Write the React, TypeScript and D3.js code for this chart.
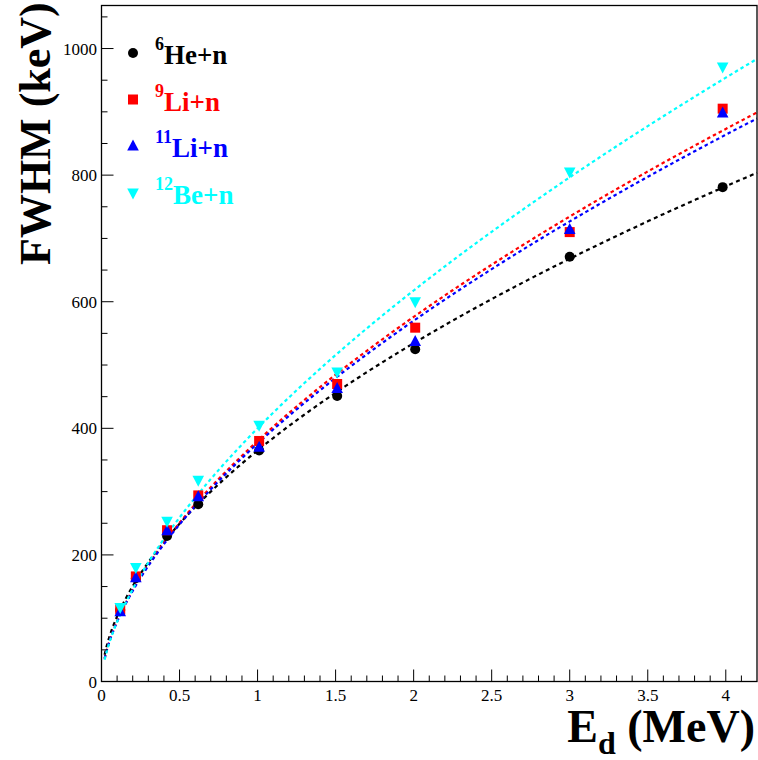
import React from "react";
import * as d3 from "d3";

const energies = [0.12, 0.22, 0.42, 0.62, 1.01, 1.51, 2.01, 3.0, 3.98];
const he6 = [113, 163, 230, 280, 365, 451, 525, 671, 781];
const li9 = [114, 166, 239, 294, 380, 470, 559, 710, 905];
const li11 = [110, 164, 238, 292, 370, 463, 537, 714, 898];
const be12 = [117, 180, 253, 318, 405, 489, 600, 805, 971];

const seriesNames = ["He+n", "Li+n", "Li+n", "Be+n"];
const seriesMass = ["6", "9", "11", "12"];
const seriesColors = ["#000000", "#ff0000", "#0000ff", "#00ffff"];
const seriesMarkers = ["circle", "square", "triUp", "triDown"];
const seriesValues = [he6, li9, li11, be12];
// fit: FWHM = a * E^p
const fitA = [365, 380, 376, 400];
const fitP = [0.55, 0.6, 0.6, 0.627];
const fitStart = 0.02;

const xTicks = [0, 0.5, 1, 1.5, 2, 2.5, 3, 3.5, 4];
const yTicks = [0, 200, 400, 600, 800, 1000];

const W = 758, H = 760;
const L = 101.5, R = 757, T = 5.5, B = 681.5;
const X_MAX = 4.2, Y_MAX = 1068;
const FONT = "Liberation Serif, Times New Roman, DejaVu Serif, serif";
const fs = { fontFamily: FONT };

function Marker({ type, x, y, color }: { type: string; x: number; y: number; color: string }) {
  if (type === "circle") return <circle cx={x} cy={y} r={5} fill={color} />;
  if (type === "square") return <rect x={x - 5} y={y - 5} width={10} height={10} fill={color} />;
  if (type === "triUp") {
    const p = `M${x},${y - 6.5}L${x + 5.8},${y + 4.5}L${x - 5.8},${y + 4.5}Z`;
    return <path d={p} fill={color} />;
  }
  const p = `M${x},${y + 6.5}L${x + 5.8},${y - 4.5}L${x - 5.8},${y - 4.5}Z`;
  return <path d={p} fill={color} />;
}

export default function App() {
  const x = d3.scaleLinear().domain([0, X_MAX]).range([L, R]);
  const y = d3.scaleLinear().domain([0, Y_MAX]).range([B, T]);
  const minorX = d3.range(0, 4.15, 0.1).map((v) => Math.round(v * 10) / 10);
  const minorY = d3.range(0, Y_MAX, 50);
  const fitXs = d3.range(fitStart, X_MAX + 0.001, 0.01);
  const line = d3
    .line<number[]>()
    .x((d) => x(d[0]))
    .y((d) => y(d[1]));

  const legendY = [64, 110.5, 157, 204];

  return (
    <svg
      width={W}
      height={H}
      style={{ position: "absolute", left: 0, top: 0, background: "#fff", fontFamily: FONT }}
    >
      <rect x={0} y={0} width={W} height={H} fill="#fff" />
      {/* fits */}
      {seriesValues.map((_, i) => (
        <path
          key={"fit" + i}
          d={line(fitXs.map((e) => [e, fitA[i] * Math.pow(e, fitP[i])])) || ""}
          fill="none"
          stroke={seriesColors[i]}
          strokeWidth={2.2}
          strokeDasharray={i === 0 ? "4,3.5" : "3.5,3"}
        />
      ))}
      {/* markers */}
      {seriesValues.map((vals, i) =>
        vals.map((v, j) => (
          <Marker key={`m${i}-${j}`} type={seriesMarkers[i]} x={x(energies[j])} y={y(v)} color={seriesColors[i]} />
        ))
      )}
      {/* frame */}
      <rect x={L} y={T} width={R - L} height={B - T} fill="none" stroke="#000" strokeWidth={1.3} />
      {/* x ticks */}
      {minorX.map((v) => {
        const major = Math.abs(v * 2 - Math.round(v * 2)) < 1e-6;
        return (
          <line key={"xt" + v} x1={x(v)} x2={x(v)} y1={B} y2={B - (major ? 12 : 6)} stroke="#000" strokeWidth={1} />
        );
      })}
      {xTicks.map((v) => (
        <text key={"xl" + v} x={x(v)} y={701} fontSize={17} textAnchor="middle" style={fs}>
          {String(v)}
        </text>
      ))}
      {/* y ticks */}
      {minorY.map((v) => {
        const major = v % 200 === 0;
        return (
          <line key={"yt" + v} x1={L} x2={L + (major ? 12 : 6)} y1={y(v)} y2={y(v)} stroke="#000" strokeWidth={1} />
        );
      })}
      {yTicks.map((v) => (
        <text key={"yl" + v} x={97} y={y(v) + 6} fontSize={17} textAnchor="end" style={fs}>
          {String(v)}
        </text>
      ))}
      {/* axis titles */}
      <text x={755} y={742} fontSize={46} fontWeight="bold" textAnchor="end" style={fs}>
        E<tspan fontSize={32} dy={12}>d</tspan>
        <tspan dy={-12}> (MeV)</tspan>
      </text>
      <text
        transform="translate(50,265) rotate(-90)"
        fontSize={44}
        fontWeight="bold"
        textAnchor="start"
        style={fs}
      >
        FWHM (keV)
      </text>
      {/* legend */}
      {seriesNames.map((nm, i) => (
        <g key={"lg" + i}>
          <Marker type={seriesMarkers[i]} x={133} y={legendY[i] - 11} color={seriesColors[i]} />
          <text x={155} y={legendY[i]} fill={seriesColors[i]} fontWeight="bold" style={fs}>
            <tspan fontSize={18} dy={-14}>{seriesMass[i]}</tspan>
            <tspan fontSize={27} dy={14}>{nm}</tspan>
          </text>
        </g>
      ))}
    </svg>
  );
}
